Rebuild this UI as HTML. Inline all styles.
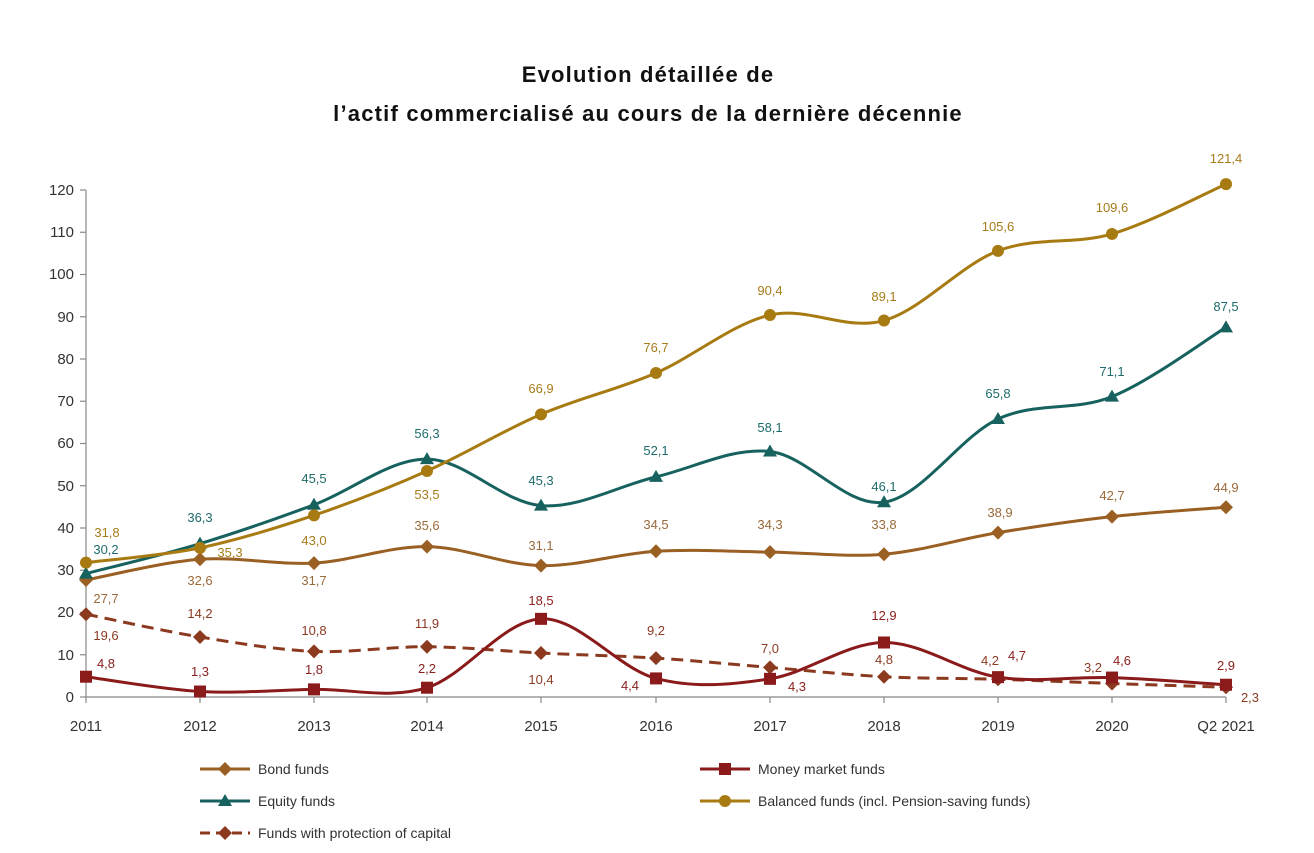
<!DOCTYPE html>
<html><head><meta charset="utf-8"><style>
html,body{margin:0;padding:0;background:#fff}
svg{display:block;font-family:"Liberation Sans",sans-serif}
</style></head><body>
<svg id="c" width="1314" height="853" viewBox="0 0 1314 853">
<text x="648" y="82" text-anchor="middle" font-size="22" font-weight="bold" letter-spacing="1.2" fill="#111">Evolution détaillée de</text>
<text x="648" y="121" text-anchor="middle" font-size="22" font-weight="bold" letter-spacing="1.2" fill="#111">l’actif commercialisé au cours de la dernière décennie</text>
<g id="axes" stroke="#888" stroke-width="1.2"></g>
<g font-size="15" fill="#333" text-anchor="end">
<text x="74" y="702">0</text><text x="74" y="660">10</text><text x="74" y="617">20</text><text x="74" y="575">30</text><text x="74" y="533">40</text><text x="74" y="491">50</text><text x="74" y="448">60</text><text x="74" y="406">70</text><text x="74" y="364">80</text><text x="74" y="322">90</text><text x="74" y="279">100</text><text x="74" y="237">110</text><text x="74" y="195">120</text>
</g>
<g font-size="15" fill="#333" text-anchor="middle">
<text x="86" y="731">2011</text><text x="200" y="731">2012</text><text x="314" y="731">2013</text><text x="427" y="731">2014</text><text x="541" y="731">2015</text><text x="656" y="731">2016</text><text x="770" y="731">2017</text><text x="884" y="731">2018</text><text x="998" y="731">2019</text><text x="1112" y="731">2020</text><text x="1226" y="731">Q2 2021</text>
</g>
<g id="series"></g>
<g font-size="13" text-anchor="middle" fill="#a67c1a">
<text x="107" y="537">31,8</text><text x="230" y="557">35,3</text><text x="314" y="545">43,0</text><text x="427" y="499">53,5</text><text x="541" y="393">66,9</text><text x="656" y="352">76,7</text><text x="770" y="295">90,4</text><text x="884" y="301">89,1</text><text x="998" y="231">105,6</text><text x="1112" y="212">109,6</text><text x="1226" y="163">121,4</text>
</g>
<g font-size="13" text-anchor="middle" fill="#1f6b6b">
<text x="106" y="554">30,2</text><text x="200" y="522">36,3</text><text x="314" y="483">45,5</text><text x="427" y="438">56,3</text><text x="541" y="485">45,3</text><text x="656" y="455">52,1</text><text x="770" y="432">58,1</text><text x="884" y="491">46,1</text><text x="998" y="398">65,8</text><text x="1112" y="376">71,1</text><text x="1226" y="311">87,5</text>
</g>
<g font-size="13" text-anchor="middle" fill="#9a6a3a">
<text x="106" y="603">27,7</text><text x="200" y="585">32,6</text><text x="314" y="585">31,7</text><text x="427" y="530">35,6</text><text x="541" y="550">31,1</text><text x="656" y="529">34,5</text><text x="770" y="529">34,3</text><text x="884" y="529">33,8</text><text x="1000" y="517">38,9</text><text x="1112" y="500">42,7</text><text x="1226" y="492">44,9</text>
</g>
<g font-size="13" text-anchor="middle" fill="#8b3a22">
<text x="106" y="640">19,6</text><text x="200" y="618">14,2</text><text x="314" y="635">10,8</text><text x="427" y="628">11,9</text><text x="541" y="684">10,4</text><text x="656" y="635">9,2</text><text x="770" y="653">7,0</text><text x="884" y="664">4,8</text><text x="990" y="665">4,2</text><text x="1093" y="672">3,2</text><text x="1250" y="702">2,3</text>
</g>
<g font-size="13" text-anchor="middle" fill="#8b2020">
<text x="106" y="668">4,8</text><text x="200" y="676">1,3</text><text x="314" y="674">1,8</text><text x="427" y="673">2,2</text><text x="541" y="605">18,5</text><text x="630" y="690">4,4</text><text x="797" y="691">4,3</text><text x="884" y="620">12,9</text><text x="1017" y="660">4,7</text><text x="1122" y="665">4,6</text><text x="1226" y="670">2,9</text>
</g>
<g id="legend"></g>
<g font-size="14" fill="#333">
<text x="258" y="774">Bond funds</text>
<text x="258" y="806">Equity funds</text>
<text x="258" y="838">Funds with protection of capital</text>
<text x="758" y="774">Money market funds</text>
<text x="758" y="806">Balanced funds (incl. Pension-saving funds)</text>
</g>
</svg>
<script>
const NS="http://www.w3.org/2000/svg";
const X=[86,200,314,427,541,656,770,884,998,1112,1226];
const Y=v=>697-v*4.225;
function el(p,t,a){const e=document.createElementNS(NS,t);for(const k in a)e.setAttribute(k,a[k]);p.appendChild(e);return e;}
const ax=document.getElementById('axes');
el(ax,'line',{x1:86,y1:190,x2:86,y2:697});
el(ax,'line',{x1:86,y1:697,x2:1226,y2:697});
for(let v=0;v<=120;v+=10)el(ax,'line',{x1:80,y1:Y(v),x2:86,y2:Y(v)});
X.forEach(x=>el(ax,'line',{x1:x,y1:697,x2:x,y2:703}));
function path(vals){const p=vals.map((v,i)=>[X[i],Y(v)]);let d=`M${p[0][0]},${p[0][1]}`;
for(let i=0;i<p.length-1;i++){const p0=p[i-1]||p[i],p1=p[i],p2=p[i+1],p3=p[i+2]||p2;const t=6;
d+=` C${p1[0]+(p2[0]-p0[0])/t},${p1[1]+(p2[1]-p0[1])/t} ${p2[0]-(p3[0]-p1[0])/t},${p2[1]-(p3[1]-p1[1])/t} ${p2[0]},${p2[1]}`;}return d;}
function marker(g,x,y,type,c){
 if(type=='d')el(g,'polygon',{points:`${x},${y-7} ${x+7},${y} ${x},${y+7} ${x-7},${y}`,fill:c});
 else if(type=='s')el(g,'rect',{x:x-6,y:y-6,width:12,height:12,fill:c});
 else if(type=='t')el(g,'polygon',{points:`${x},${y-7} ${x+7},${y+5} ${x-7},${y+5}`,fill:c});
 else el(g,'circle',{cx:x,cy:y,r:6,fill:c});}
const S=[
 {v:[19.6,14.2,10.8,11.9,10.4,9.2,7.0,4.8,4.2,3.2,2.3],c:'#8b3a1f',m:'d',dash:'12,7'},
 {v:[27.7,32.6,31.7,35.6,31.1,34.5,34.3,33.8,38.9,42.7,44.9],c:'#9a5f22',m:'d'},
 {v:[4.8,1.3,1.8,2.2,18.5,4.4,4.3,12.9,4.7,4.6,2.9],c:'#8b1a1a',m:'s'},
 {v:[29.2,36.3,45.5,56.3,45.3,52.1,58.1,46.1,65.8,71.1,87.5],c:'#17625f',m:'t'},
 {v:[31.8,35.3,43.0,53.5,66.9,76.7,90.4,89.1,105.6,109.6,121.4],c:'#a87b12',m:'c'}];
const g=document.getElementById('series');
S.forEach(s=>{const a={d:path(s.v),fill:'none',stroke:s.c,'stroke-width':3};if(s.dash)a['stroke-dasharray']=s.dash;el(g,'path',a);
 s.v.forEach((v,i)=>marker(g,X[i],Y(v),s.m,s.c));});
const L=document.getElementById('legend');
[[200,769,S[1]],[200,801,S[3]],[200,833,S[0]],[700,769,S[2]],[700,801,S[4]]].forEach(([x,y,s])=>{
 const a={x1:x,y1:y,x2:x+50,y2:y,stroke:s.c,'stroke-width':3};if(s.dash)a['stroke-dasharray']='10,6';el(L,'line',a);marker(L,x+25,y,s.m,s.c);});
</script>
</body></html>
